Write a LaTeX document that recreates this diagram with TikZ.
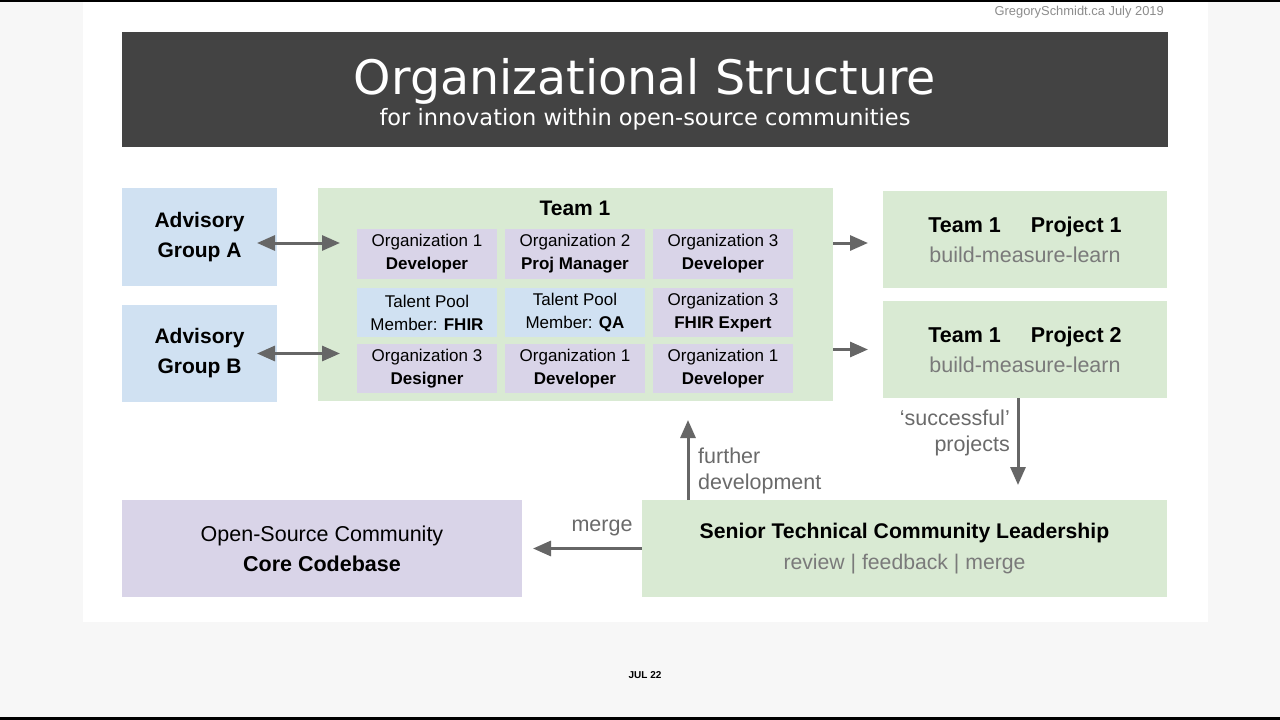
\documentclass[tikz,border=0pt]{standalone}
\usepackage{fontspec}
\setmainfont{Liberation Sans}
\newfontfamily\titlefont{DejaVu Sans}
\usetikzlibrary{arrows.meta}
\definecolor{pagebg}{HTML}{F7F7F7}
\definecolor{hdr}{HTML}{434343}
\definecolor{blueA}{HTML}{D0E1F2}
\definecolor{greenA}{HTML}{D9EAD3}
\definecolor{purpA}{HTML}{D9D4E8}
\definecolor{arrgray}{HTML}{666666}
\definecolor{txtgray}{HTML}{6A6A6A}
\definecolor{lightgray}{HTML}{7A7A7A}
\definecolor{credgray}{HTML}{8C8C8C}
\begin{document}
\begin{tikzpicture}[x=1pt,y=-1pt,
  box/.style={inner sep=0pt, outer sep=0pt, align=center},
  advbox/.style={box, fill=blueA, minimum width=155, font=\fontsize{21}{30}\selectfont\bfseries},
  cellbox/.style={box, minimum width=140, font=\fontsize{17}{23}\selectfont},
  projbox/.style={box, fill=greenA, minimum width=284, minimum height=97, font=\fontsize{21.5}{30}\selectfont},
  lbl/.style={inner sep=0pt, text=txtgray, font=\fontsize{21.5}{26}\selectfont},
  arr/.style={draw=arrgray, line width=3pt, -{Triangle[length=18pt,width=15pt]}},
  dbl/.style={draw=arrgray, line width=3pt, {Triangle[length=18pt,width=15pt]}-{Triangle[length=18pt,width=15pt]}}
]
\useasboundingbox (0,0) rectangle (1280,720);
\fill[pagebg] (0,0) rectangle (1280,720);
\fill[white] (83,1.5) rectangle (1208,622);
\fill[black] (0,0) rectangle (1280,1.5);
\fill[black] (0,716.5) rectangle (1280,720);

% credit
\node[anchor=base east, inner sep=0pt, text=credgray, font=\fontsize{12.9}{15}\selectfont] (credit) at (1164,16) {GregorySchmidt.ca July 2019};

% header
\node[box, fill=hdr, minimum width=1046, minimum height=115] (hdr) at (645,89.5) {};
\node[anchor=base, inner sep=0pt, text=white, font=\titlefont\fontsize{47.5}{56}\selectfont] (title) at (645,94) {Organizational Structure};
\node[anchor=base, inner sep=0pt, text=white, font=\titlefont\fontsize{22.5}{26}\selectfont] (subtitle) at (645,125) {for innovation within open-source communities};

% advisory groups
\node[advbox, minimum height=98] (advA) at (199.5,237) {Advisory\\Group A};
\node[advbox, minimum height=97] (advB) at (199.5,353.5) {Advisory\\Group B};

% team 1
\node[box, fill=greenA, minimum width=515, minimum height=213] (team) at (575.5,294.5) {};
\node[inner sep=0pt, font=\fontsize{21}{26}\selectfont\bfseries] (teamlbl) at (575,208) {Team 1};

\node[cellbox, fill=purpA, minimum height=50] (c11) at (427,254) {Organization 1\\\textbf{Developer}};
\node[cellbox, fill=purpA, minimum height=50] (c12) at (575,254) {Organization 2\\\textbf{Proj Manager}};
\node[cellbox, fill=purpA, minimum height=50] (c13) at (723,254) {Organization 3\\\textbf{Developer}};
\node[cellbox, fill=blueA, minimum height=49] (c21) at (427,312.5) {Talent Pool\\Member: \textbf{FHIR}};
\node[cellbox, fill=blueA, minimum height=49] (c22) at (575,312.5) {Talent Pool\\Member: \textbf{QA}};
\node[cellbox, fill=purpA, minimum height=49] (c23) at (723,312.5) {Organization 3\\\textbf{FHIR Expert}};
\node[cellbox, fill=purpA, minimum height=49] (c31) at (427,368.5) {Organization 3\\\textbf{Designer}};
\node[cellbox, fill=purpA, minimum height=49] (c32) at (575,368.5) {Organization 1\\\textbf{Developer}};
\node[cellbox, fill=purpA, minimum height=49] (c33) at (723,368.5) {Organization 1\\\textbf{Developer}};

% projects
\node[projbox] (p1) at (1025,239.5) {\textbf{Team 1}\hspace{30pt}\textbf{Project 1}\\\textcolor{lightgray}{build-measure-learn}};
\node[projbox] (p2) at (1025,349.5) {\textbf{Team 1}\hspace{30pt}\textbf{Project 2}\\\textcolor{lightgray}{build-measure-learn}};

% bottom row
\node[box, fill=purpA, minimum width=400, minimum height=97, font=\fontsize{21.5}{30}\selectfont] (osc) at (322,548.5) {Open-Source Community\\\textbf{Core Codebase}};
\node[box, fill=greenA, minimum width=525, minimum height=97, font=\fontsize{21.2}{31}\selectfont] (senior) at (904.5,548.5) {\textbf{Senior Technical Community Leadership}\\\textcolor{lightgray}{review | feedback | merge}};

% connectors
\draw[dbl] ([xshift=-20pt,yshift=-6pt]advA.east) -- ([xshift=22pt,yshift=-6pt]advA.east -| team.west);
\draw[dbl] ([xshift=-20pt]advB.east) -- ([xshift=22pt]advB.east -| team.west);
\draw[arr] ([yshift=-3.5pt]p1.west -| team.east) -- ([xshift=-15pt,yshift=-3.5pt]p1.west);
\draw[arr] (p2.west -| team.east) -- ([xshift=-15pt]p2.west);
\draw[arr] ([xshift=-7pt]p2.south) -- ([xshift=-7pt,yshift=15pt]p2.south |- senior.north);
\draw[arr] ([xshift=46pt]senior.north west) -- ([xshift=46pt,yshift=-19pt]senior.north west |- team.south);
\draw[arr] (senior.west) -- ([xshift=11pt]osc.east);

% connector labels
\node[lbl, anchor=east, align=right] (succ) at (1010,433) {‘successful’\\projects};
\node[lbl, anchor=west, align=left] (further) at (698,471) {further\\development};
\node[lbl] (mergelbl) at (602,528) {merge};

% footer
\node[inner sep=0pt, font=\fontsize{10}{12}\selectfont\bfseries] (date) at (645,675) {JUL 22};
\end{tikzpicture}
\end{document}
